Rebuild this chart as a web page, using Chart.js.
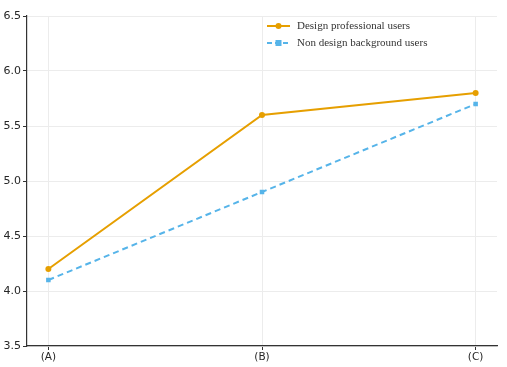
<!DOCTYPE html>
<html><head><meta charset="utf-8">
<script src="https://cdn.jsdelivr.net/npm/chart.js@4"></script>
<style>html,body{margin:0;padding:0;background:#fff}#w{width:507px;height:367px}</style>
</head><body><div id="w"><canvas id="c" width="507" height="367"></canvas></div>
<script>
const categories = ["(A)", "(B)", "(C)"];
const designPro = [4.2, 5.6, 5.8];
const nonDesign = [4.1, 4.9, 5.7];
const seriesNames = ["Design professional users", "Non design background users"];
const yTicks = [3.5, 4.0, 4.5, 5.0, 5.5, 6.0, 6.5];

const ORANGE = "#E69F00", BLUE = "#56B4E9";

const legendPlugin = {
  id: "insideLegend",
  afterDraw(chart) {
    const ctx = chart.ctx;
    const items = [
      {name: seriesNames[0], color: ORANGE, dash: [], shape: "circle"},
      {name: seriesNames[1], color: BLUE, dash: [5, 3], shape: "square"}
    ];
    ctx.save();
    items.forEach((it, i) => {
      const y = 26 + i * 17;
      ctx.strokeStyle = it.color; ctx.lineWidth = 2; ctx.setLineDash(it.dash);
      ctx.beginPath(); ctx.moveTo(267, y); ctx.lineTo(290, y); ctx.stroke();
      ctx.setLineDash([]);
      ctx.fillStyle = it.color;
      if (it.shape === "circle") { ctx.beginPath(); ctx.arc(278.5, y, 3, 0, Math.PI * 2); ctx.fill(); }
      else ctx.fillRect(275.5, y - 3, 6, 6);
      ctx.fillStyle = "#333"; ctx.font = "11px 'Liberation Serif'"; ctx.textBaseline = "middle";
      ctx.fillText(it.name, 297, y);
    });
    ctx.restore();
  }
};

new Chart(document.getElementById("c"), {
  type: "line",
  data: {
    datasets: [
      {label: seriesNames[0], data: designPro.map((v, i) => ({x: i, y: v})), borderColor: ORANGE, backgroundColor: ORANGE,
       borderWidth: 2, pointRadius: 3, pointStyle: "circle", pointBorderWidth: 0, tension: 0},
      {label: seriesNames[1], data: nonDesign.map((v, i) => ({x: i, y: v})), borderColor: BLUE, backgroundColor: BLUE,
       borderWidth: 2, borderDash: [6, 4], pointRadius: 3.2, pointStyle: "rect", pointBorderWidth: 0, tension: 0}
    ]
  },
  options: {
    responsive: false, animation: false, devicePixelRatio: 1,
    layout: {padding: {top: 16, right: 10, left: 0, bottom: 0}},
    plugins: {legend: {display: false}, tooltip: {enabled: false}},
    scales: {
      x: {
        type: "linear", min: -0.1, max: 2.1,
        afterBuildTicks: s => { s.ticks = categories.map((_, i) => ({value: i})); },
        afterFit: s => { s.height = 21; },
        ticks: {callback: v => categories[v], color: "#262626", font: {family: "DejaVu Sans", size: 10.5}, padding: 1, maxRotation: 0},
        grid: {color: "#ececec", tickColor: "#333", tickLength: 4, lineWidth: 1},
        border: {color: "#333", width: 1.2}
      },
      y: {
        min: 3.5, max: 6.5,
        afterBuildTicks: s => { s.ticks = yTicks.map(v => ({value: v})); },
        afterFit: s => { s.width = 27; },
        ticks: {callback: v => v.toFixed(1), color: "#262626", font: {family: "DejaVu Sans", size: 11}, padding: 2},
        grid: {color: "#ececec", tickColor: "#333", tickLength: 4, lineWidth: 1},
        border: {color: "#333", width: 1.2}
      }
    }
  },
  plugins: [legendPlugin]
});
</script></body></html>
